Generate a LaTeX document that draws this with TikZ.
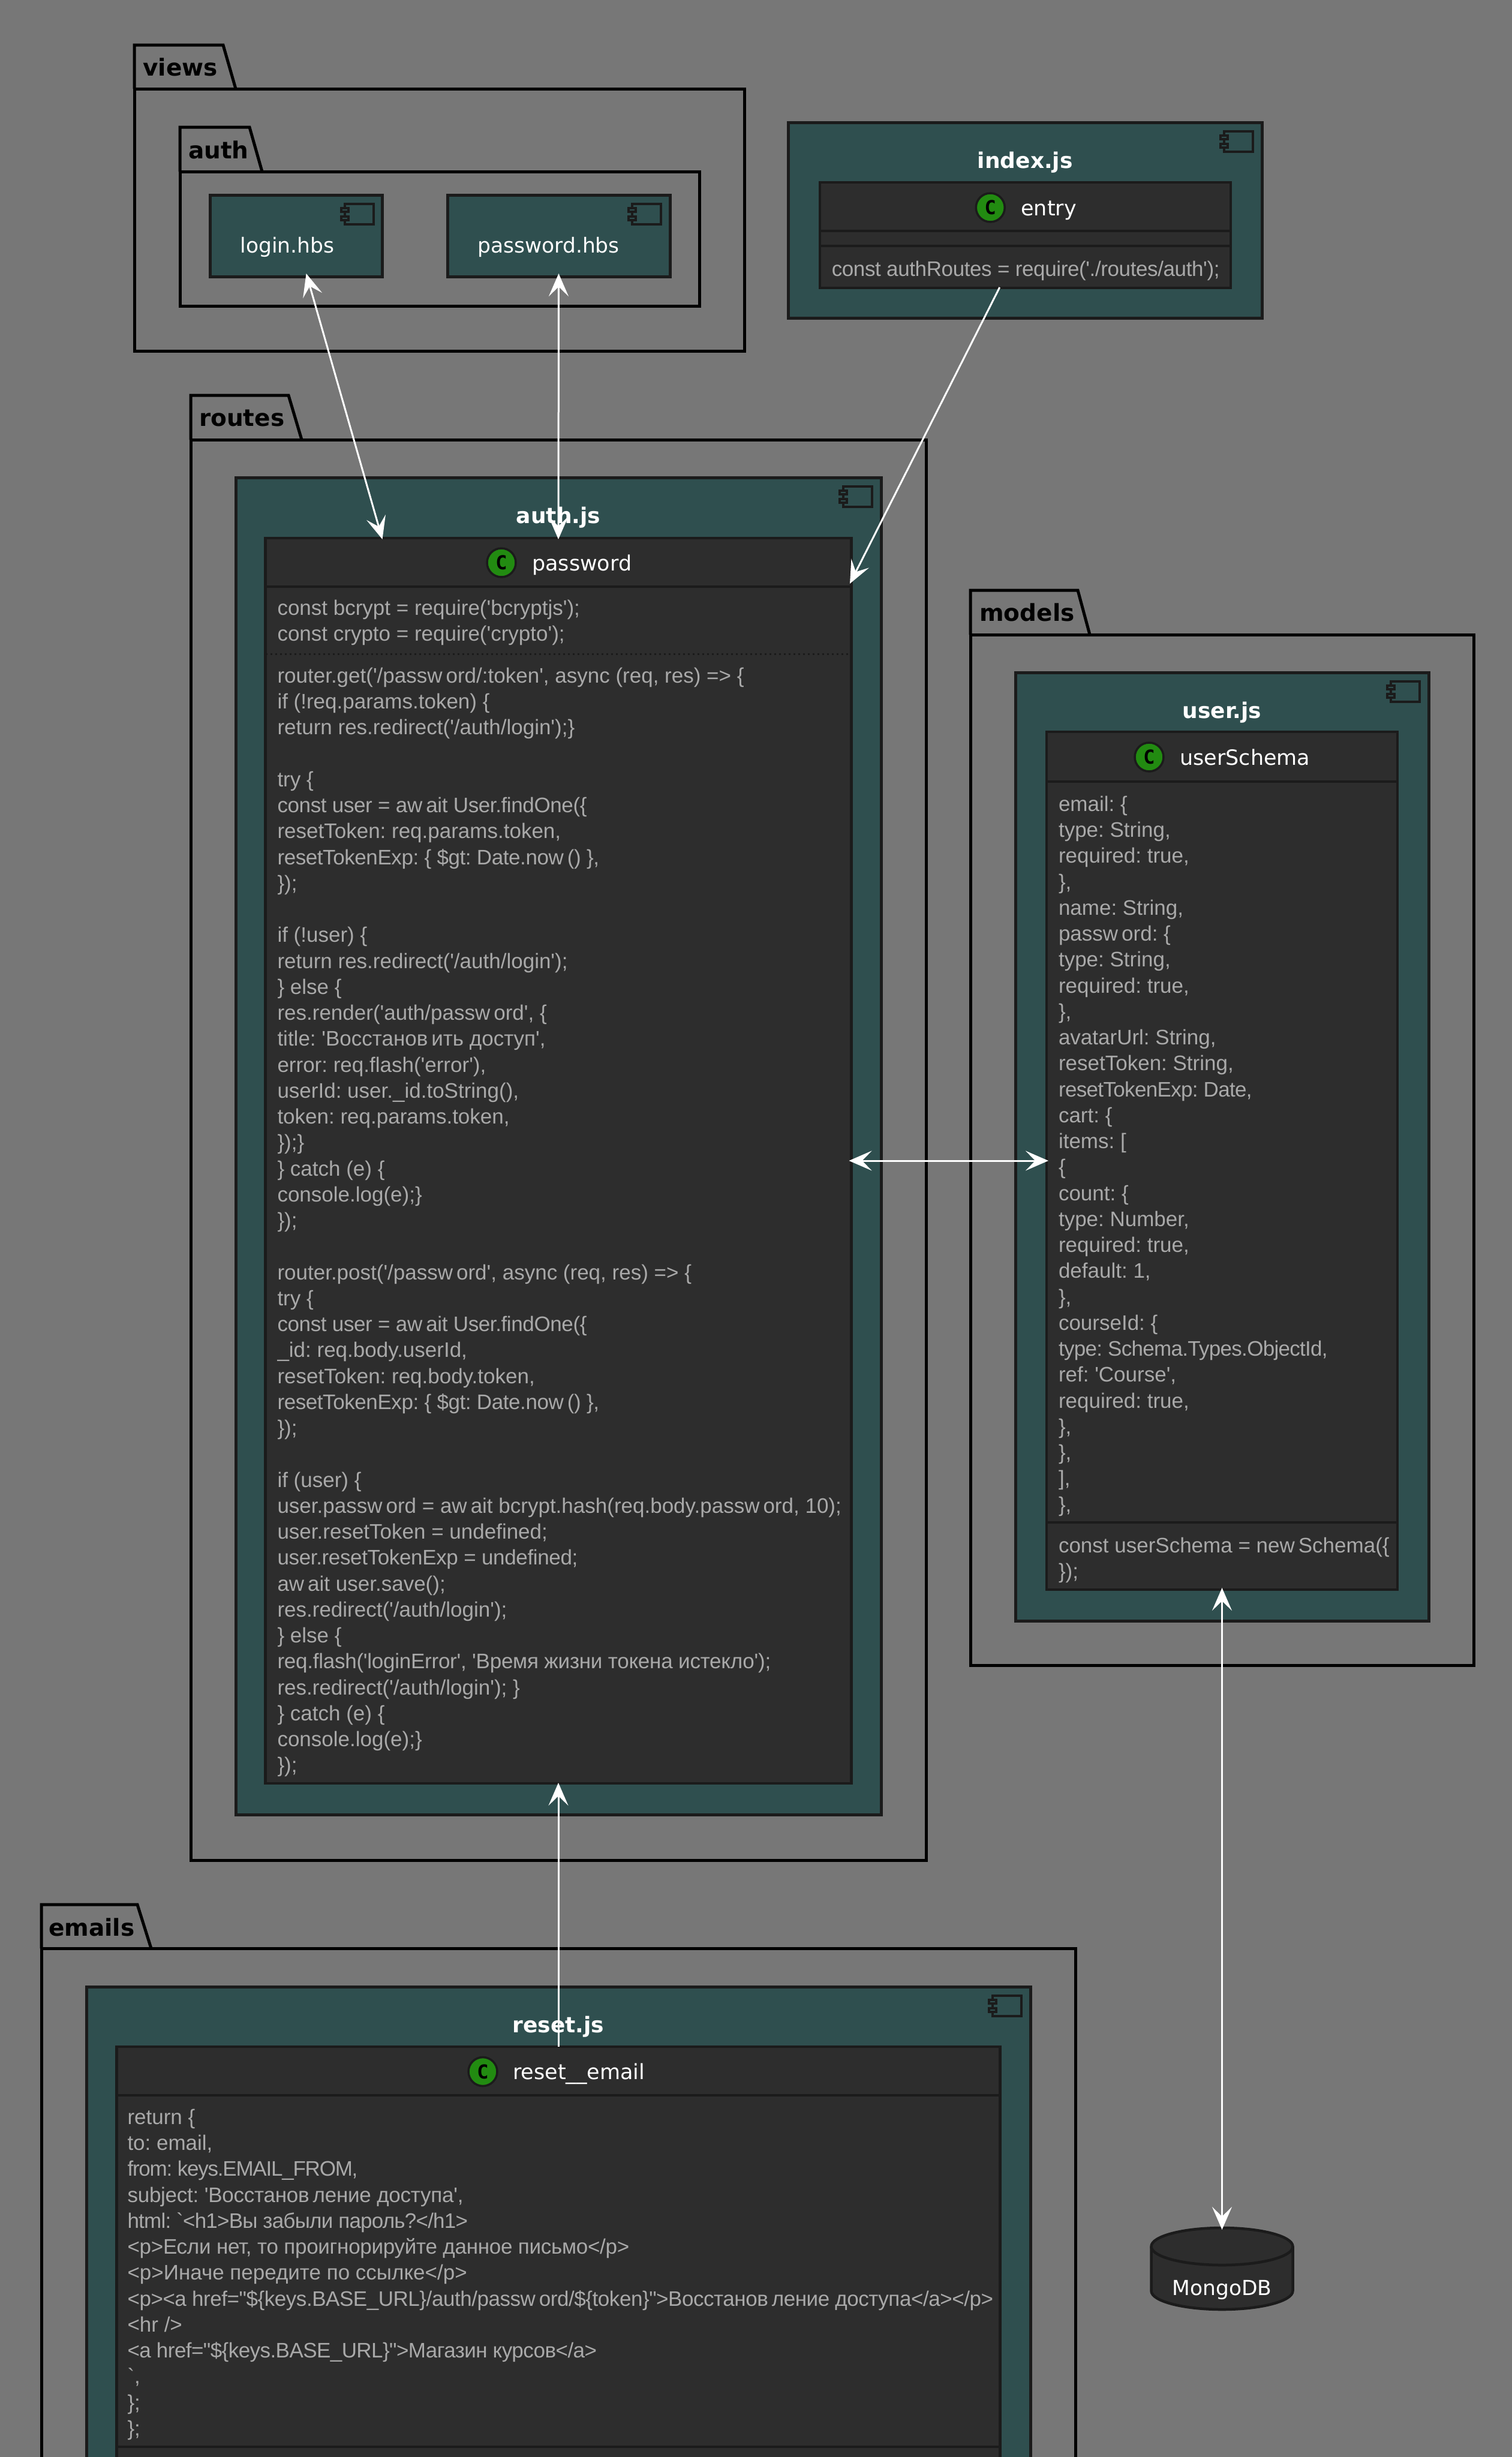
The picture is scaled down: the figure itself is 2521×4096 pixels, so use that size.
\documentclass[tikz,border=0pt]{standalone}
\usepackage{fontspec}
\setmainfont{DejaVu Sans}
\newfontfamily\codefont[Ligatures=ResetAll]{Liberation Sans}
\newfontfamily\spotfont{DejaVu Sans Mono}
\usetikzlibrary{arrows.meta,positioning}
\definecolor{Canvas}{HTML}{777777}
\definecolor{Slate}{HTML}{2F4F4F}
\definecolor{Panel}{HTML}{2D2D2D}
\definecolor{Edge}{HTML}{1B1B1B}
\definecolor{Fog}{HTML}{A9A9A9}
\definecolor{Leaf}{HTML}{228B11}
\tikzset{
  pkgframe/.style={
    draw=black, line width=5pt, inner sep=0pt, outer sep=0pt, anchor=north west
  },
  pkgtab/.style={draw=black, line width=5pt},
  pkglabel/.style={font=\fontsize{39}{44}\selectfont\bfseries, text=black, inner sep=0pt, anchor=base west},
  component/.style={
    draw=Edge, line width=5pt, fill=Slate, inner sep=0pt, outer sep=0pt
  },
  comptitle/.style={font=\fontsize{36}{42}\selectfont\bfseries, text=white, inner sep=0pt, anchor=base},
  leaflabel/.style={font=\fontsize{34.5}{40}\selectfont, text=white, inner sep=0pt, anchor=base west},
  iconbody/.style={draw=Edge, line width=4pt, minimum width=48pt, minimum height=34pt, inner sep=0pt, outer sep=0pt},
  iconpin/.style={draw=Edge, line width=4pt, fill=Slate, minimum width=12pt, minimum height=6pt, inner sep=0pt, outer sep=0pt},
  classbox/.style={draw=Edge, line width=4.5pt, fill=Panel, inner sep=0pt, outer sep=0pt},
  classpart/.style={draw=Edge, line width=4.5pt, inner sep=0pt, outer sep=0pt},
  dotsep/.style={draw=Edge, line width=3pt, dash pattern=on 3pt off 5pt},
  spot/.style={
    circle, draw=Edge, line width=3.5pt, fill=Leaf, minimum size=48pt, inner sep=0pt, outer sep=0pt,
    text=black, font=\spotfont\fontsize{32}{32}\selectfont\bfseries, anchor=center
  },
  classname/.style={font=\fontsize{35}{40}\selectfont, text=white, inner sep=0pt, anchor=base west},
  members/.style={
    font=\codefont\fontsize{35}{43.25}\selectfont\frenchspacing, text=Fog, align=left, inner sep=0pt, outer sep=0pt,
    execute at begin node=\strut
  },
  drum/.style={draw=Edge, line width=4.5pt, fill=Panel},
  drumrim/.style={draw=Edge, line width=4.5pt},
  uses/.style={-{Stealth[length=38pt,width=33pt,inset=16pt]}, line width=3pt, draw=white},
  bothways/.style={{Stealth[length=38pt,width=33pt,inset=16pt]}-{Stealth[length=38pt,width=33pt,inset=16pt]}, line width=3pt, draw=white}
}
\newcommand{\compicon}[1]{%
  \node[iconbody, below left=15pt and 15pt of #1.north east] (#1icon) {};
  \node[iconpin] (#1pina) at ([yshift=7pt]#1icon.west) {};
  \node[iconpin] (#1pinb) at ([yshift=-6.5pt]#1icon.west) {};
}
\newcommand{\wgap}{\kern6pt\relax}
\newcommand{\snug}[2]{{\addfontfeature{LetterSpace=#1}#2}}

\begin{document}
\begin{tikzpicture}[x=1pt,y=-1pt]
    \useasboundingbox (0,0) rectangle (2521,4096);
    \clip (0,0) rectangle (2521,4096);
    \fill[Canvas] (0,0) rectangle (2521,4096);
    % views
    \node[pkgframe, minimum width=1017pt, minimum height=437pt] (views) at (224,148) {};
    \draw[pkgtab] (views.north west) -- ++(0,-73) -- ++(148,0) -- ([xshift=169pt]views.north west);
    \node[pkglabel, above right=22pt and 14pt of views.north west, anchor=base west] (viewslabel) {views};
    \node[pkgframe, minimum width=866pt, minimum height=224pt, below right=138pt and 76pt of views.north west] (authpkg) {};
    \draw[pkgtab] (authpkg.north west) -- ++(0,-74) -- ++(116,0) -- ([xshift=137pt]authpkg.north west);
    \node[pkglabel, above right=22pt and 14pt of authpkg.north west, anchor=base west] (authlabel) {auth};
    \node[component, minimum width=287pt, minimum height=136pt, below right=39pt and 50.5pt of authpkg.north west] (login) {};
    \compicon{login}
    \node[leaflabel, below right=96pt and 50pt of login.north west, anchor=base west] (logintext) {login.hbs};
    \node[component, minimum width=371pt, minimum height=136pt, right=108.5pt of login] (passhbs) {};
    \compicon{passhbs}
    \node[leaflabel, below right=96pt and 50pt of passhbs.north west, anchor=base west] (passtext) {password.hbs};
    % index.js
    \node[component, minimum width=789.5pt, minimum height=326pt, anchor=north west] (indexjs) at (1314.5,204) {};
    \compicon{indexjs}
    \node[comptitle, below=76.5pt of indexjs.north, anchor=base] (indextitle) {index.js};
    \node[classbox, minimum width=685pt, minimum height=176pt, below=100pt of indexjs.north] (entry) {};
    \node[classpart, minimum width=685pt, minimum height=81pt, below=0pt of entry.north] (entryhead) {};
    \node[classpart, minimum width=685pt, minimum height=25pt, below=0pt of entryhead] (entryfields) {};
    \node[spot, below=42pt of entry.north, xshift=-58pt, anchor=center] (entryspot) {C};
    \node[classname, right=51pt of entryspot.center, anchor=base west, yshift=-13pt] (entryname) {entry};
    \node[members, below right=20pt and 20pt of entryfields.south west] (entrymethods) {\snug{-1.1}{const authRoutes = require('./routes/auth');}};
    % routes
    \node[pkgframe, minimum width=1226pt, minimum height=2368pt] (routes) at (318,733) {};
    \draw[pkgtab] (routes.north west) -- ++(0,-74) -- ++(163,0) -- ([xshift=185pt]routes.north west);
    \node[pkglabel, above right=23pt and 14pt of routes.north west, anchor=base west] (routeslabel) {routes};
    \node[component, minimum width=1076pt, minimum height=2229pt, below right=63pt and 75pt of routes.north west] (authjs) {};
    \compicon{authjs}
    \node[comptitle, below=76.5pt of authjs.north, anchor=base] (authtitle) {auth.js};
    \node[classbox, minimum width=977pt, minimum height=2076pt, below=101pt of authjs.north] (password) {};
    \node[classpart, minimum width=977pt, minimum height=81pt, below=0pt of password.north] (passwordhead) {};
    \node[minimum width=977pt, minimum height=112pt, inner sep=0pt, outer sep=0pt, below=0pt of passwordhead] (passwordfields) {};
    \draw[dotsep] (passwordfields.south west) -- (passwordfields.south east);
    \node[spot, below=41pt of password.north, xshift=-95pt, anchor=center] (passwordspot) {C};
    \node[classname, right=51pt of passwordspot.center, anchor=base west, yshift=-13pt] (passwordname) {password};
    \node[members, below right=22pt and 20pt of passwordfields.north west] (passwordtop) {const bcrypt = require('bcryptjs');\\
const crypto = require('crypto');};
    \node[members, below right=23pt and 20pt of passwordfields.south west] (passwordcode) {router.get('/passw\wgap ord/:token', async (req, res) => \{\\
if (!req.params.token) \{\\
return res.redirect('/auth/login');\}\\
\\
try \{\\
\snug{-1.1}{const user = aw\wgap ait User.findOne(\{}\\
resetToken: req.params.token,\\
\snug{-1.2}{resetTokenExp: \{ \$gt: Date.now\wgap () \},}\\
\});\\
\\
if (!user) \{\\
return res.redirect('/auth/login');\\
\} else \{\\
res.render('auth/passw\wgap ord', \{\\
title: 'Восстанов\wgap ить доступ',\\
error: req.flash('error'),\\
userId: user.\_id.toString(),\\
token: req.params.token,\\
\});\}\\
\} catch (e) \{\\
console.log(e);\}\\
\});\\
\\
router.post('/passw\wgap ord', async (req, res) => \{\\
try \{\\
\snug{-1.1}{const user = aw\wgap ait User.findOne(\{}\\
\_id: req.body.userId,\\
resetToken: req.body.token,\\
\snug{-1.2}{resetTokenExp: \{ \$gt: Date.now\wgap () \},}\\
\});\\
\\
if (user) \{\\
user.passw\wgap ord = aw\wgap ait bcrypt.hash(req.body.passw\wgap ord, 10);\\
user.resetToken = undefined;\\
\snug{-1}{user.resetTokenExp = undefined;}\\
aw\wgap ait user.save();\\
res.redirect('/auth/login');\\
\} else \{\\
\snug{-0.7}{req.flash('loginError', 'Время жизни токена истекло');}\\
res.redirect('/auth/login'); \}\\
\} catch (e) \{\\
console.log(e);\}\\
\});};
    % models
    \node[pkgframe, minimum width=839pt, minimum height=1718pt] (models) at (1618,1058) {};
    \draw[pkgtab] (models.north west) -- ++(0,-74) -- ++(179,0) -- ([xshift=199pt]models.north west);
    \node[pkglabel, above right=23pt and 15pt of models.north west, anchor=base west] (modelslabel) {models};
    \node[component, minimum width=689pt, minimum height=1581pt, below right=63pt and 75pt of models.north west] (userjs) {};
    \compicon{userjs}
    \node[comptitle, below=76.5pt of userjs.north, anchor=base] (usertitle) {user.js};
    \node[classbox, minimum width=585pt, minimum height=1430pt, below=99pt of userjs.north] (schema) {};
    \node[classpart, minimum width=585pt, minimum height=83pt, below=0pt of schema.north] (schemahead) {};
    \node[classpart, minimum width=585pt, minimum height=1235pt, below=0pt of schemahead] (schemafields) {};
    \node[spot, below=42pt of schema.north, xshift=-121.5pt, anchor=center] (schemaspot) {C};
    \node[classname, right=51pt of schemaspot.center, anchor=base west, yshift=-13pt] (schemaname) {userSchema};
    \node[members, below right=24pt and 20pt of schemafields.north west] (schemacode) {email: \{\\
type: String,\\
required: true,\\
\},\\
name: String,\\
passw\wgap ord: \{\\
type: String,\\
required: true,\\
\},\\
avatarUrl: String,\\
resetToken: String,\\
\snug{-1.9}{resetTokenExp: Date,}\\
cart: \{\\
items: [\\
\{\\
count: \{\\
type: Number,\\
required: true,\\
default: 1,\\
\},\\
courseId: \{\\
\snug{-2}{type: Schema.Types.ObjectId,}\\
ref: 'Course',\\
required: true,\\
\},\\
\},\\
],\\
\},};
    \node[members, below right=25pt and 20pt of schemafields.south west] (schemamethods) {const userSchema = new\wgap Schema(\{\\
\});};
    % emails
    \node[pkgframe, minimum width=1724pt, minimum height=1000pt] (emails) at (69,3248) {};
    \draw[pkgtab] (emails.north west) -- ++(0,-73) -- ++(160,0) -- ([xshift=183pt]emails.north west);
    \node[pkglabel, above right=21pt and 12pt of emails.north west, anchor=base west] (emailslabel) {emails};
    \node[component, minimum width=1574pt, minimum height=1000pt, below right=64pt and 75pt of emails.north west] (resetjs) {};
    \compicon{resetjs}
    \node[comptitle, below=76.5pt of resetjs.north, anchor=base] (resettitle) {reset.js};
    \node[classbox, minimum width=1473pt, minimum height=800pt, below=100pt of resetjs.north] (resetmail) {};
    \node[classpart, minimum width=1473pt, minimum height=81pt, below=0pt of resetmail.north] (resethead) {};
    \node[classpart, minimum width=1473pt, minimum height=586pt, below=0pt of resethead] (resetfields) {};
    \node[spot, below=41.5pt of resetmail.north, xshift=-126pt, anchor=center] (resetspot) {C};
    \node[classname, right=50pt of resetspot.center, anchor=base west, yshift=-13pt] (resetname) {reset\_\_email};
    \node[members, below right=23pt and 18pt of resetfields.north west] (resetcode) {return \{\\
to: email,\\
\snug{-3.5}{from: keys.EMAIL\_FROM,}\\
\snug{-0.7}{subject: 'Восстанов\wgap ление доступа',}\\
\snug{-2.2}{html: `<h1>Вы забыли пароль?</h1>}\\
\snug{-0.8}{<p>Если нет, то проигнорируйте данное письмо</p>}\\
<p>Иначе передите по ссылке</p>\\
\snug{-1.3}{<p><a href="\$\{keys.BASE\_URL\}/auth/passw\wgap ord/\$\{token\}">Восстанов\wgap ление доступа</a></p>}\\
<hr />\\
\snug{-1.6}{<a href="\$\{keys.BASE\_URL\}">Магазин курсов</a>}\\
`,\\
\};\\
\};};
    % database
    \node[minimum width=236pt, minimum height=136pt, inner sep=0pt, outer sep=0pt] (mongo) at (2037.5,3782) {};
    \draw[drum] ([yshift=-31pt]mongo.north west) arc[start angle=180, end angle=0, x radius=118pt, y radius=31pt]
      -- ([yshift=31pt]mongo.south east) arc[start angle=0, end angle=-180, x radius=118pt, y radius=31pt] -- cycle;
    \draw[drumrim] ([yshift=-31pt]mongo.north west) arc[start angle=180, end angle=360, x radius=118pt, y radius=31pt];
    \node[leaflabel, above=24pt of mongo.south, anchor=base] (mongotext) {MongoDB};
    % connectors
    \draw[bothways] ([xshift=16.6pt,yshift=5pt]login.south) -- ([xshift=-293.5pt,yshift=-2pt]password.north);
    \draw[bothways] ([yshift=5pt]passhbs.south) -- ([yshift=-2pt]password.north);
    \draw[uses] ([xshift=-42.5pt,yshift=1pt]entry.south) -- ([xshift=-2.5pt,yshift=962pt]password.east);
    \draw[bothways] ([xshift=-4pt]password.east) -- ([xshift=3pt]schema.west);
    \draw[bothways] ([yshift=3pt]schema.south) -- ([yshift=-3pt]mongo.north);
    \draw[uses] (resetmail.north) -- ([yshift=1pt]password.south);
  \end{tikzpicture}
\end{document}
